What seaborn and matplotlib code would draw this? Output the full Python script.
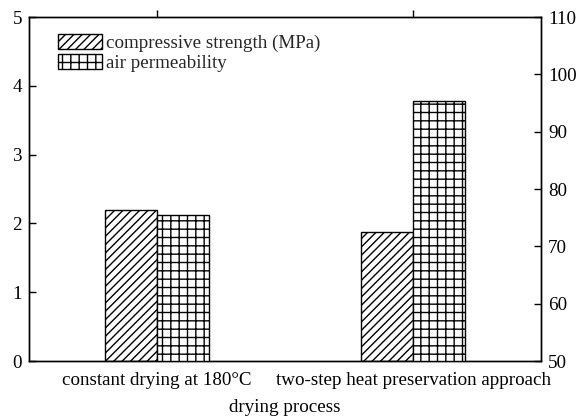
import matplotlib
matplotlib.use("Agg")
import matplotlib.pyplot as plt
import matplotlib.patches as mpatches
import seaborn as sns
import pandas as pd

categories = ["constant drying at 180°C", "two-step heat preservation approach"]
compressive_strength = [2.19, 1.88]
air_permeability = [75.4, 95.3]
series_names = ["compressive strength (MPa)", "air permeability"]
left_ticks = [0, 1, 2, 3, 4, 5]
right_ticks = [50, 60, 70, 80, 90, 100, 110]

sns.set_theme(style="white")
plt.rcParams["font.family"] = ["Liberation Serif", "DejaVu Serif"]
plt.rcParams["hatch.linewidth"] = 1.0

fig = plt.figure(figsize=(5.8, 4.19), dpi=100)
ax = fig.add_axes([29/580, 1 - 361/419, 512/580, 344/419])
ax2 = ax.twinx()

bw = 0.203
df1 = pd.DataFrame({"process": categories, "value": compressive_strength})
df2 = pd.DataFrame({"process": categories, "value": air_permeability})

sns.barplot(data=df1, x="process", y="value", order=categories, width=bw, ax=ax,
            color="white", edgecolor="black", linewidth=1.0)
sns.barplot(data=df2, x="process", y="value", order=categories, width=bw, ax=ax2,
            color="white", edgecolor="black", linewidth=1.0)

for p in ax.patches:
    p.set_x(p.get_x() - bw / 2)
    p.set_hatch("////")
    p.set_facecolor("white")
    p.set_edgecolor("black")
for p in ax2.patches:
    p.set_x(p.get_x() + bw / 2)
    p.set_hatch("++")
    p.set_facecolor("white")
    p.set_edgecolor("black")

ax.set_xlim(-0.5, 1.5)
ax.set_ylim(0, 5)
ax2.set_ylim(50, 110)
ax.set_yticks(left_ticks)
ax2.set_yticks(right_ticks)

for a in (ax, ax2):
    for s in a.spines.values():
        s.set_visible(True)
        s.set_color("black")
        s.set_linewidth(1.0)

fs = 13.7
ax.tick_params(axis="x", bottom=False, top=True, labelbottom=True, labeltop=False,
               direction="out", length=5, width=1, color="black", labelsize=fs, pad=3)
ax.tick_params(axis="y", left=True, direction="in", length=5, width=1, color="black",
               labelsize=fs, pad=5)
ax2.tick_params(axis="y", right=True, direction="in", length=5, width=1, color="black",
                labelsize=fs, pad=5)
ax.set_xlabel("drying process", fontsize=fs, labelpad=7, color="black")
ax.set_ylabel("")
ax2.set_ylabel("")
for lab in ax.get_xticklabels() + ax.get_yticklabels() + ax2.get_yticklabels():
    lab.set_color("black")

handles = [mpatches.Patch(facecolor="white", edgecolor="black", hatch="////", label=series_names[0]),
           mpatches.Patch(facecolor="white", edgecolor="black", hatch="++", label=series_names[1])]
ax2.legend(handles=handles, loc="upper left", bbox_to_anchor=(0.035, 0.985), frameon=False,
           fontsize=fs, handlelength=2.3, handleheight=0.85, handletextpad=0.2,
           labelspacing=0.1, borderaxespad=0.2)

fig.savefig("out.png", dpi=100)
